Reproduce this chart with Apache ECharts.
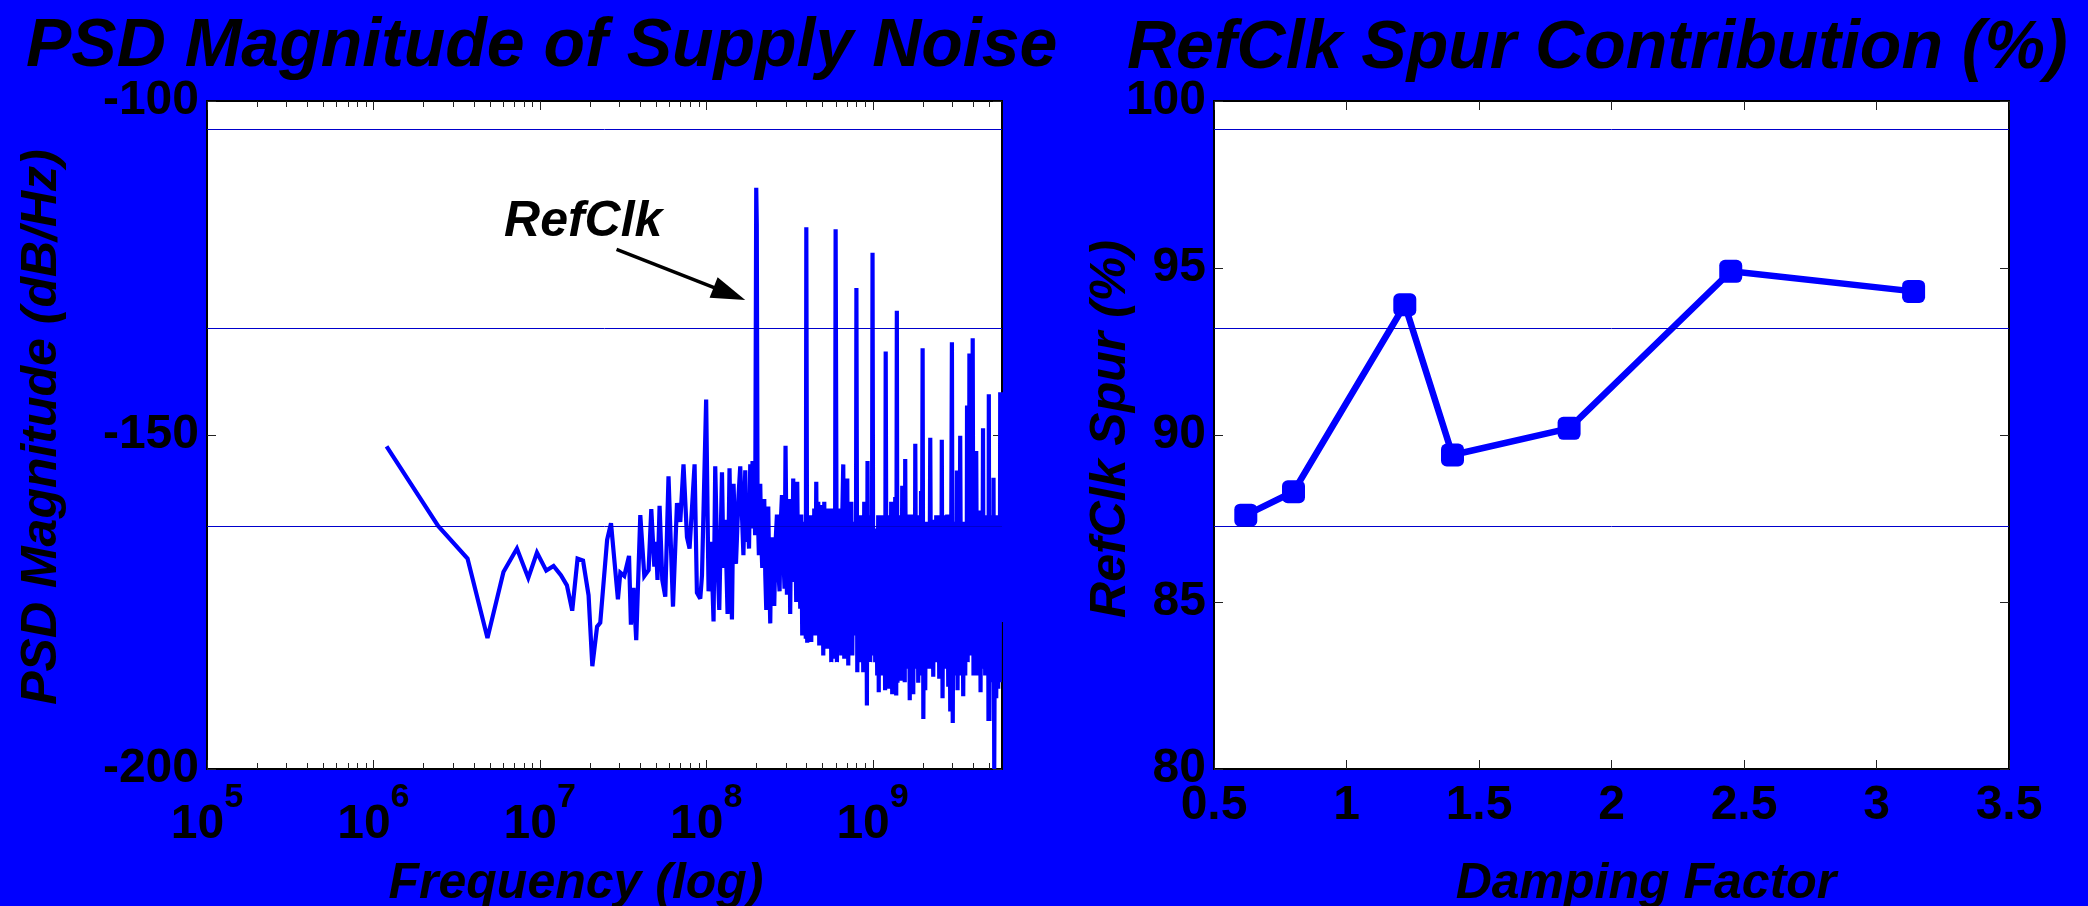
<!DOCTYPE html>
<html>
<head>
<meta charset="utf-8">
<script src="https://cdn.jsdelivr.net/npm/echarts@6/dist/echarts.min.js"></script>
<style>
  html, body { margin: 0; padding: 0; background: #0000ff; }
  #chart { width: 2088px; height: 906px; }
</style>
</head>
<body>
<div id="chart"></div>
<script>
// ---- Supply-noise spectrum (frequency in MHz, magnitude in dB/Hz) ----
const psdFreqMHz = [
  1.2, 2.45, 3.68, 4.85, 6.05, 7.29, 8.53, 9.62, 10.94, 12.1,
  13.4, 14.56, 15.67, 16.87, 18.2, 19.65, 20.7, 22.1, 23.1, 25.4,
  26.8, 29.5, 30.5, 32.2, 34.4, 35.3, 36.6, 38.0, 40.2, 42.5,
  45.1, 46.8, 48.8, 49.9, 51.0, 52.5, 54.5, 56.8, 59.4, 63.2,
  66.8, 69.9, 73.1, 76.7, 79.5, 85.2, 88.0, 92.2, 94.4, 100,
  103.4, 107, 110.8, 113.4, 116.5, 119.9, 124.5, 127.2, 130.2, 134.5,
  138.2, 142.9, 146.1, 151.1, 156.6, 160.3, 164.1, 167.5, 171.8, 174.5,
  177.4, 181, 184.1, 187, 190, 192.3, 194.6, 197, 200, 201.5,
  203.7, 207.5, 211.4, 214.5, 217.4, 220.5, 223.5, 226.7, 229.8, 233,
  236.2, 239.5, 242.8, 246, 249.6, 253, 256.6, 261.5, 266.4, 271,
  276.2, 281, 285.5, 291, 296, 300, 305.9, 310.5, 315.8,
  320, 324.6, 329, 333.7, 338.3, 343, 347.8, 352.7, 357.6, 362.6,
  367.7, 372.8, 378, 383.3, 388.6, 394, 397, 400, 405, 410.9,
  416.6, 422.4, 428.3, 434.3, 440.4, 446.5, 452.7, 459, 465.4, 471.9,
  478.5, 485.2, 492, 498.8, 505.8, 512.8, 520, 527.2, 534.6, 542,
  549.6, 557.2, 565, 572.9, 580.9, 588.9, 594, 600, 611, 622.4,
  631, 639.9, 648.8, 657.9, 667, 676.3, 685.7, 695.3, 705, 714.8,
  724.8, 734.9, 745.2, 755.6, 766, 776.2, 786.8, 794, 800, 810,
  820.6, 832, 843.7, 855.5, 867.4, 879.5, 891.7, 904, 916.8, 925,
  933, 942.4, 955.5, 968.7, 982, 990, 1000, 1010, 1023.7, 1038,
  1052.5, 1067, 1082, 1090, 1097, 1105, 1112.5, 1128, 1143.7, 1160,
  1175.8, 1190, 1200, 1215, 1225, 1242.7, 1260, 1277.6, 1295, 1313.5,
  1332, 1350.3, 1369, 1388, 1400, 1412, 1427, 1447, 1467.5, 1488,
  1508.7, 1530, 1551, 1562, 1572, 1594.5, 1617, 1639.3, 1650, 1674,
  1697, 1720, 1732.6, 1757, 1781, 1794, 1807, 1831, 1857, 1882.6,
  1909, 1935.7, 1957, 1975, 2000, 2020, 2045.5, 2074, 2103, 2132,
  2162, 2192, 2223, 2254, 2285, 2317, 2349, 2382, 2415, 2449,
  2483, 2518, 2553, 2588, 2608, 2635, 2668, 2698, 2736, 2774,
  2812, 2852, 2892, 2932, 2972, 3000, 3035, 3068, 3097, 3140,
  3184, 3215, 3243, 3273, 3319, 3365, 3412, 3460, 3508, 3557,
  3607, 3657, 3675, 3699, 3730, 3759, 3795, 3822, 3865, 3920,
  3960, 4000, 4045, 4085, 4142, 4200, 4258, 4318, 4377, 4410,
  4460, 4500, 4563, 4615, 4650, 4691, 4756, 4823, 4890, 4945,
  4975, 5000, 5040, 5098, 5170, 5241, 5314, 5336, 5388, 5463,
  5539, 5616, 5694, 5774, 5814, 5854, 5935, 6000
];
const psdDb = [
  -151.7, -163.6, -168.5, -180.4, -170.5, -167.0, -171.4, -167.6, -170.3, -169.6,
  -171.0, -172.5, -176.3, -168.5, -168.8, -174.0, -184.6, -178.7, -178.1, -165.7,
  -163.2, -174.6, -170.6, -171.1, -168.1, -178.4, -172.9, -180.7, -162.0, -171.1,
  -170.2, -161.1, -169.7, -166.0, -171.7, -160.6, -171.7, -174.2, -156.2, -175.7,
  -160.2, -163.0, -154.4, -165.3, -167.0, -154.4, -173.6, -174.5, -171.0, -144.7,
  -173.4, -166.0, -177.9, -154.7, -168.0, -176.2, -155.6, -169.9, -162.7, -176.8,
  -155.0, -177.6, -157.3, -169.3, -159.0, -154.7, -161.9, -168.0, -155.3, -166.0,
  -160.7, -167.0, -154.4, -163.0, -153.9, -164.0, -160.2, -165.0, -113.0, -118.5,
  -160.2, -168.0, -157.3, -166.0, -169.9, -161.0, -159.6, -171.0, -176.2, -163.0,
  -160.7, -171.0, -178.2, -167.0, -165.3, -171.0, -175.6, -166.0, -161.9, -170.0,
  -173.4, -163.0, -159.0, -168.0, -173.0, -151.6, -173.9, -170.0, -159.6,
  -176.8, -160.0, -172.0, -156.5, -171.5, -163.0, -175.0, -157.0, -172.0, -165.0,
  -176.0, -161.9, -180.0, -163.0, -178.0, -163.0, -180.5, -118.9, -181.1, -162.0,
  -178.0, -162.0, -181.0, -163.0, -179.0, -161.0, -180.0, -157.0, -178.0, -160.0,
  -181.5, -160.5, -179.0, -162.0, -183.0, -160.0, -180.0, -164.0, -182.0, -161.0,
  -181.0, -163.0, -184.0, -161.0, -181.0, -162.0, -183.5, -119.2, -184.0, -163.0,
  -181.0, -161.0, -183.0, -162.0, -154.4, -183.5, -161.0, -182.0, -156.5, -184.5,
  -163.0, -181.0, -160.0, -183.0, -164.0, -179.5, -163.0, -180.0, -128.0, -185.5,
  -163.0, -182.0, -162.0, -184.0, -164.0, -185.5, -160.0, -184.0, -164.0, -190.5,
  -153.9, -182.0, -163.0, -184.0, -162.0, -183.0, -122.7, -179.6, -164.0, -184.0,
  -165.0, -186.0, -162.0, -188.5, -164.0, -185.0, -162.5, -186.0, -162.0, -185.0,
  -164.0, -188.2, -137.5, -186.0, -163.0, -188.0, -162.0, -185.0, -160.0, -188.8,
  -163.0, -185.0, -159.3, -189.0, -131.4, -187.1, -164.0, -186.0, -162.0, -186.8,
  -157.6, -185.0, -163.0, -187.0, -153.6, -185.0, -162.0, -184.0, -161.9, -189.7,
  -162.0, -186.0, -161.9, -188.8, -164.0, -185.0, -151.3, -184.0, -163.0, -187.1,
  -162.0, -186.0, -158.4, -186.0, -137.0, -192.5, -164.0, -188.2, -163.0, -185.0,
  -165.0, -184.0, -150.4, -185.0, -162.7, -186.2, -164.0, -184.0, -162.0, -183.0,
  -165.0, -186.5, -162.0, -185.0, -150.7, -189.4, -163.0, -184.0, -162.0, -185.0,
  -161.9, -187.7, -163.0, -191.4, -164.0, -136.1, -193.1, -163.0, -186.0, -164.0,
  -186.0, -155.3, -188.2, -165.0, -186.0, -150.1, -186.0, -165.0, -189.1, -163.0,
  -186.0, -164.0, -183.0, -145.6, -184.0, -162.0, -183.0, -137.8, -183.0, -150.0,
  -182.0, -135.5, -186.0, -160.0, -184.8, -152.4, -186.0, -162.0, -186.0, -161.3,
  -188.5, -164.0, -184.0, -149.0, -185.0, -162.0, -186.0, -162.0, -183.9, -164.0,
  -192.8, -143.9, -192.8, -163.0, -186.0, -162.0, -187.0, -156.4, -200.0, -165.0,
  -189.4, -162.0, -188.0, -164.0, -187.0, -143.6, -178.0, -143.6
];

// ---- Reference-clock spur share versus loop damping factor ----
const dampingFactor = [0.62, 0.80, 1.22, 1.40, 1.84, 2.45, 3.14];
const spurPct = [87.6, 88.3, 93.9, 89.4, 90.2, 94.9, 94.3];

// ---- Axis ticks ----
const freqMajorTicks = [1e5, 1e6, 1e7, 1e8, 1e9];
const freqMinorTicks = [
  2e5, 3e5, 4e5, 5e5, 6e5, 7e5, 8e5, 9e5,
  2e6, 3e6, 4e6, 5e6, 6e6, 7e6, 8e6, 9e6,
  2e7, 3e7, 4e7, 5e7, 6e7, 7e7, 8e7, 9e7,
  2e8, 3e8, 4e8, 5e8, 6e8, 7e8, 8e8, 9e8,
  2e9, 3e9, 4e9, 5e9
];

// ---- Annotation and guide rows ----
const refClkLabel = 'RefClk';
const refClkTextAt = [1.825e7, -118.1];
const refClkArrow = [[2.894e7, -122.2], [1.38e8, -128.85]];
const psdGuideRows = [-104.3, -133.95, -163.6];
const spurGuideRows = [99.14, 93.21, 87.28];

const BLUE = '#0000ff';
const GUIDE = '#0000cc';
const SANS = "'Liberation Sans', Arial, Helvetica, sans-serif";
const tickLabel = { fontFamily: SANS, fontSize: 48, fontWeight: 'bold', color: '#000' };
const nameStyle = { fontFamily: SANS, fontSize: 50, fontWeight: 'bold', fontStyle: 'italic', color: '#000' };
const tickLine = { color: '#222', width: 1 };

const chart = echarts.init(document.getElementById('chart'), null, { renderer: 'canvas' });

const gridBox = { show: true, backgroundColor: '#fff', borderColor: '#000', borderWidth: 2,
                  containLabel: false, outerBoundsMode: 'none' };

function mirrorAxis(base, position) {
  return Object.assign({}, base, { position: position, name: '', axisLabel: { show: false } });
}

const psdX = {
  type: 'log', logBase: 10, gridIndex: 0, min: 1e5, max: 6e9, position: 'bottom',
  axisLine: { show: false }, splitLine: { show: false }, axisTick: { show: false },
  axisLabel: {
    margin: 12, showMaxLabel: false,
    formatter: function (v) {
      const e = Math.round(Math.log10(v));
      return Math.abs(Math.log10(v) - e) < 1e-6 ? '{b|10}{s|' + e + '}' : '';
    },
    rich: {
      b: Object.assign({}, tickLabel, { lineHeight: 68, verticalAlign: 'bottom' }),
      s: Object.assign({}, tickLabel, { fontSize: 34, lineHeight: 34, verticalAlign: 'top' })
    }
  },
  name: 'Frequency (log)', nameLocation: 'middle', nameGap: 90, nameMoveOverlap: false,
  nameTextStyle: Object.assign({}, nameStyle, { padding: [0, 57, 0, 0] })
};

const psdY = {
  type: 'value', gridIndex: 0, min: -200, max: -100, interval: 50, position: 'left',
  axisLine: { show: false }, splitLine: { show: false },
  axisTick: { show: true, inside: true, length: 9, lineStyle: tickLine },
  axisLabel: Object.assign({ margin: 8 }, tickLabel),
  name: 'PSD Magnitude (dB/Hz)', nameLocation: 'middle', nameRotate: 90, nameGap: 140,
  nameMoveOverlap: false,
  nameTextStyle: Object.assign({}, nameStyle, { padding: [0, 0, 0, 16] })
};

const spurX = {
  type: 'value', gridIndex: 1, min: 0.5, max: 3.5, interval: 0.5, position: 'bottom',
  axisLine: { show: false }, splitLine: { show: false },
  axisTick: { show: true, inside: true, length: 9, lineStyle: tickLine },
  axisLabel: Object.assign({ margin: 13 }, tickLabel),
  name: 'Damping Factor', nameLocation: 'middle', nameGap: 90, nameMoveOverlap: false,
  nameTextStyle: Object.assign({}, nameStyle, { padding: [0, 0, 0, 69] })
};

const spurY = {
  type: 'value', gridIndex: 1, min: 80, max: 100, interval: 5, position: 'left',
  axisLine: { show: false }, splitLine: { show: false },
  axisTick: { show: true, inside: true, length: 9, lineStyle: tickLine },
  axisLabel: Object.assign({ margin: 8 }, tickLabel),
  name: 'RefClk Spur (%)', nameLocation: 'middle', nameRotate: 90, nameGap: 78,
  nameMoveOverlap: false,
  nameTextStyle: Object.assign({}, nameStyle, { padding: [0, 0, 0, 12] })
};

// Log-axis ticks (major and minor, bottom and top edges) placed through the x scale
const freqTickData = freqMajorTicks.map(f => [f, 1]).concat(freqMinorTicks.map(f => [f, 0]));

function renderFreqTick(params, api) {
  const f = api.value(0);
  const len = api.value(1) ? 9 : 6;
  const pb = api.coord([f, -200]);
  const pt = api.coord([f, -100]);
  const x = Math.round(pb[0]) + 0.5;
  const st = { stroke: '#222', lineWidth: 1 };
  return {
    type: 'group',
    children: [
      { type: 'line', shape: { x1: x, y1: pb[1], x2: x, y2: pb[1] - len }, style: st },
      { type: 'line', shape: { x1: x, y1: pt[1], x2: x, y2: pt[1] + len }, style: st }
    ]
  };
}

const guideLine = (v) => ({ yAxis: v, lineStyle: { color: GUIDE, width: 1, type: 'solid' } });
const titleStyle = { fontFamily: SANS, fontSize: 68, fontWeight: 'bold', fontStyle: 'italic', color: '#000' };

chart.setOption({
  animation: false,
  backgroundColor: BLUE,
  textStyle: { fontFamily: SANS },
  title: [
    { text: 'PSD Magnitude of Supply Noise', left: 26, top: 13, padding: 0, textStyle: titleStyle },
    { text: 'RefClk Spur Contribution (%)', left: 1127, top: 15, padding: 0, textStyle: titleStyle }
  ],
  grid: [
    Object.assign({ left: 207, top: 101, width: 795, height: 668 }, gridBox),
    Object.assign({ left: 1214, top: 101, width: 795, height: 668 }, gridBox)
  ],
  xAxis: [psdX, spurX, mirrorAxis(spurX, 'top')],
  yAxis: [psdY, mirrorAxis(psdY, 'right'), spurY, mirrorAxis(spurY, 'right')],
  series: [
    {
      name: 'PSD', type: 'line', xAxisIndex: 0, yAxisIndex: 0,
      data: psdFreqMHz.map((f, i) => [f * 1e6, psdDb[i]]),
      showSymbol: false, symbol: 'none', silent: true,
      lineStyle: { color: BLUE, width: 4.2, join: 'miter', miterLimit: 3 },
      z: 3,
      markLine: {
        silent: true, symbol: ['none', 'none'], label: { show: false }, emphasis: { disabled: true },
        data: psdGuideRows.map(guideLine).concat([[
          { coord: refClkArrow[0], symbol: 'none', lineStyle: { color: '#000', width: 3.5, type: 'solid' } },
          { coord: refClkArrow[1], symbol: 'triangle', symbolSize: [22, 34] }
        ]])
      },
      markPoint: {
        silent: true,
        data: [{ coord: refClkTextAt, symbol: 'rect', symbolSize: 1, itemStyle: { color: 'rgba(0,0,0,0)' } }],
        label: { show: true, position: 'inside', formatter: refClkLabel,
                 fontFamily: SANS, fontSize: 50, fontWeight: 'bold', fontStyle: 'italic', color: '#000' }
      }
    },
    {
      name: 'Frequency ticks', type: 'custom', xAxisIndex: 0, yAxisIndex: 0,
      data: freqTickData, renderItem: renderFreqTick, silent: true, z: 5
    },
    {
      name: 'RefClk spur', type: 'line', xAxisIndex: 1, yAxisIndex: 2,
      data: dampingFactor.map((d, i) => [d, spurPct[i]]),
      symbol: 'roundRect', symbolSize: 23, showSymbol: true, silent: true,
      lineStyle: { color: BLUE, width: 6.5 },
      itemStyle: { color: BLUE, borderWidth: 0 },
      z: 3,
      markLine: {
        silent: true, symbol: ['none', 'none'], label: { show: false }, emphasis: { disabled: true },
        data: spurGuideRows.map(guideLine)
      }
    }
  ]
});
</script>
</body>
</html>
